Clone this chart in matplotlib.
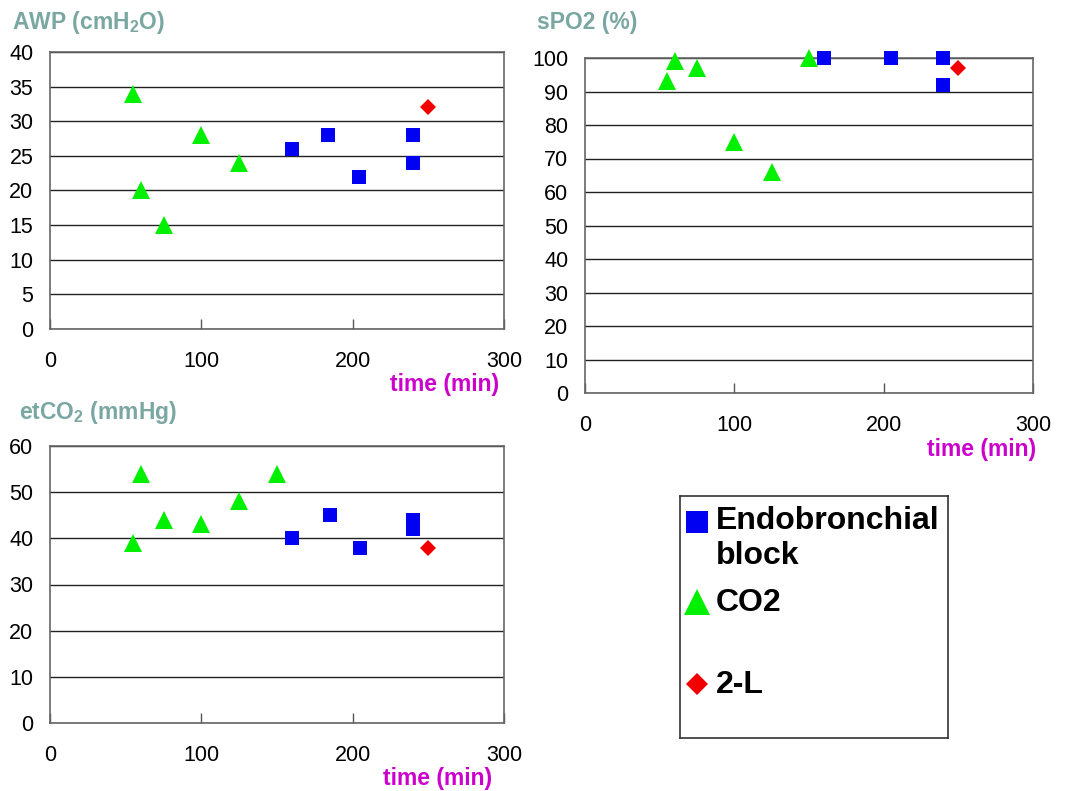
import matplotlib
matplotlib.use("Agg")
import matplotlib.pyplot as plt

plt.rcParams['font.family'] = ['Liberation Sans', 'DejaVu Sans']
plt.rcParams['mathtext.fontset'] = 'custom'
plt.rcParams['mathtext.rm'] = 'Liberation Sans:bold'
plt.rcParams['mathtext.default'] = 'rm'

# ---- data ----
awp_endo_x = [160, 184, 204, 240, 240]
awp_endo_y = [26, 28, 22, 28, 24]
awp_co2_x = [55, 60, 75, 100, 125]
awp_co2_y = [34, 20, 15, 28, 24]
awp_2l_x = [250]
awp_2l_y = [32]

spo2_endo_x = [160, 205, 240, 240]
spo2_endo_y = [100, 100, 100, 92]
spo2_co2_x = [55, 60, 75, 100, 125, 150]
spo2_co2_y = [93, 99, 97, 75, 66, 100]
spo2_2l_x = [250]
spo2_2l_y = [97]

etco2_endo_x = [160, 185, 205, 240, 240]
etco2_endo_y = [40, 45, 38, 44, 42]
etco2_co2_x = [55, 60, 75, 100, 125, 150]
etco2_co2_y = [39, 54, 44, 43, 48, 54]
etco2_2l_x = [250]
etco2_2l_y = [38]

x_ticks = [0, 100, 200, 300]
awp_ticks = list(range(0, 45, 5))
spo2_ticks = list(range(0, 110, 10))
etco2_ticks = list(range(0, 70, 10))

titles = ["AWP (cmH$_2$O)", "sPO2 (%)", "etCO$_2$ (mmHg)"]
xlabel = "time (min)"
legend_labels = ["Endobronchial", "block", "CO2", "2-L"]

BLUE = '#0000f2'
GREEN = '#00f000'
RED = '#f20000'
TEAL = '#7aa7a2'
MAG = '#cc00cc'

W, H = 1065, 791
fig = plt.figure(figsize=(W / 100, H / 100), dpi=100)


def add_ax(x0, y0, x1, y1):
    return fig.add_axes([x0 / W, 1 - y1 / H, (x1 - x0) / W, (y1 - y0) / H])


def style(ax, yticks):
    ax.set_xlim(0, 300)
    ax.set_ylim(yticks[0], yticks[-1])
    ax.set_xticks(x_ticks)
    ax.set_yticks(yticks)
    ax.tick_params(axis='x', direction='in', length=7, width=1, color='#555555',
                   pad=16, labelsize=15.5)
    ax.tick_params(axis='y', length=0, pad=12, labelsize=15.5)
    for s in ax.spines.values():
        s.set_color('#666666')
        s.set_linewidth(1.2)
    ax.yaxis.grid(True, color='#222222', linewidth=1.0)
    ax.set_axisbelow(True)


def plot_data(ax, ex, ey, cx, cy, lx, ly):
    ax.plot(cx, cy, linestyle='none', marker='^', markersize=12.5, color=GREEN,
            markeredgewidth=0, clip_on=False, zorder=3)
    ax.plot(ex, ey, linestyle='none', marker='s', markersize=10.5, color=BLUE,
            markeredgewidth=0, clip_on=False, zorder=3)
    ax.plot(lx, ly, linestyle='none', marker='D', markersize=8, color=RED,
            markeredgewidth=0, clip_on=False, zorder=3)


ax1 = add_ax(50, 52, 504, 329)
style(ax1, awp_ticks)
plot_data(ax1, awp_endo_x, awp_endo_y, awp_co2_x, awp_co2_y, awp_2l_x, awp_2l_y)

ax2 = add_ax(585, 58, 1033, 393)
style(ax2, spo2_ticks)
plot_data(ax2, spo2_endo_x, spo2_endo_y, spo2_co2_x, spo2_co2_y, spo2_2l_x, spo2_2l_y)

ax3 = add_ax(50, 446, 504, 723)
style(ax3, etco2_ticks)
plot_data(ax3, etco2_endo_x, etco2_endo_y, etco2_co2_x, etco2_co2_y, etco2_2l_x, etco2_2l_y)


def ftext(x, y, s, **kw):
    fig.text(x / W, 1 - y / H, s, **kw)


TS = 16.5
ftext(12, 23, titles[0], color=TEAL, fontsize=TS, fontweight='bold', va='center', ha='left')
ftext(537, 22, titles[1], color=TEAL, fontsize=TS, fontweight='bold', va='center', ha='left')
ftext(19, 412, titles[2], color=TEAL, fontsize=TS, fontweight='bold', va='center', ha='left')

ftext(499, 385, xlabel, color=MAG, fontsize=TS, fontweight='bold', va='center', ha='right')
ftext(1036, 449, xlabel, color=MAG, fontsize=TS, fontweight='bold', va='center', ha='right')
ftext(492, 778, xlabel, color=MAG, fontsize=TS, fontweight='bold', va='center', ha='right')

# legend box
lax = add_ax(680, 496, 948, 738)
lax.set_xlim(680, 948)
lax.set_ylim(738, 496)
lax.set_xticks([])
lax.set_yticks([])
for s in lax.spines.values():
    s.set_color('#333333')
    s.set_linewidth(1.2)
lax.plot([697], [522], marker='s', markersize=15.5, color=BLUE, markeredgewidth=0, linestyle='none')
lax.plot([697], [602], marker='^', markersize=19, color=GREEN, markeredgewidth=0, linestyle='none')
lax.plot([697], [684], marker='D', markersize=11, color=RED, markeredgewidth=0, linestyle='none')
LS = 23
lax.text(716, 521, legend_labels[0], fontsize=LS, fontweight='bold', va='center', ha='left')
lax.text(716, 556, legend_labels[1], fontsize=LS, fontweight='bold', va='center', ha='left')
lax.text(716, 603, legend_labels[2], fontsize=LS, fontweight='bold', va='center', ha='left')
lax.text(716, 685, legend_labels[3], fontsize=LS, fontweight='bold', va='center', ha='left')

fig.savefig("out.png", dpi=100)
